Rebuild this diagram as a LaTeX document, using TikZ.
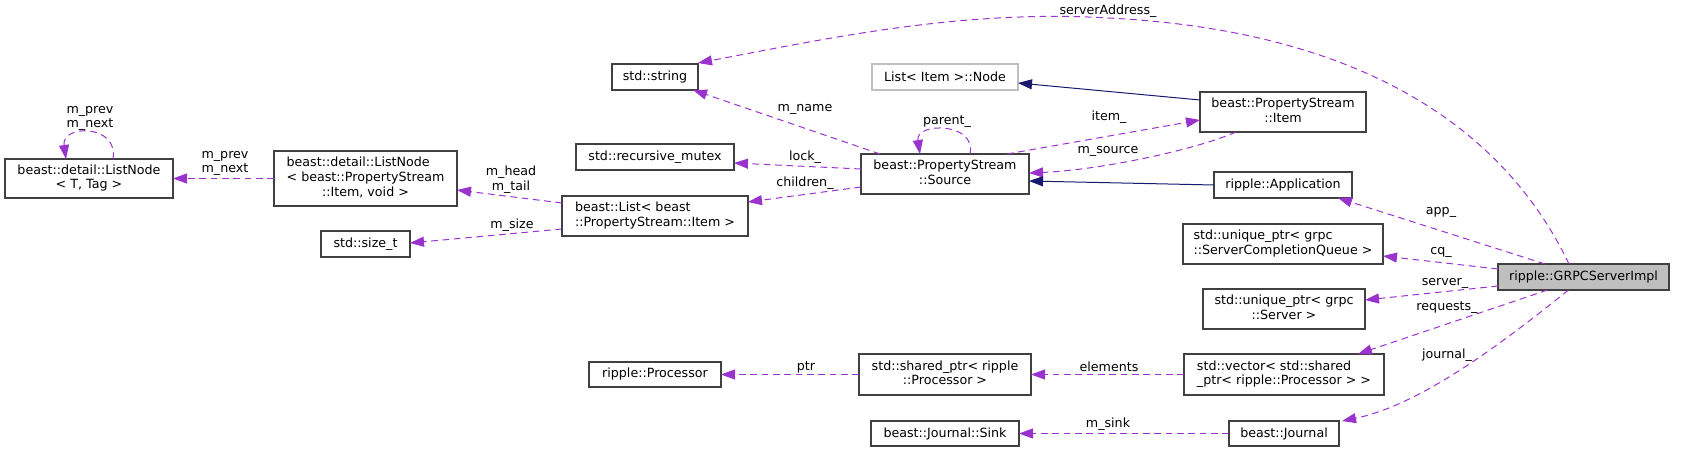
\documentclass[tikz,border=0pt]{standalone}
\usepackage{fontspec}
\setmainfont{DejaVu Sans}
\usetikzlibrary{arrows.meta}
\definecolor{purp}{HTML}{9A32CD}
\definecolor{navy}{HTML}{191970}
\definecolor{bord}{HTML}{404040}
\definecolor{lgray}{HTML}{BFBFBF}
\newcommand\dlines[2]{\begin{tabular}{@{}l@{}}#1\\\multicolumn{1}{@{}c@{}}{#2}\end{tabular}}
\begin{document}
\begin{tikzpicture}[x=0.75pt,y=-0.75pt,
  every node/.style={font=\fontsize{9.5}{11}\selectfont, inner sep=0pt, outer sep=0pt},
  cls/.style n args={2}{draw=bord, line width=0.9pt, fill=white, minimum width=#1*0.75pt, minimum height=#2*0.75pt},
  dep/.style={draw=purp, line width=0.75pt, dash pattern=on 5pt off 3.5pt, -{Triangle[length=10.5pt,width=7.5pt]}},
  inh/.style={draw=navy, line width=0.75pt, -{Triangle[length=10.5pt,width=7.5pt]}}]
\useasboundingbox (0,0) rectangle (1684,452);
% classes
\node[cls={168}{39}] (lnT) at (89,178.5) {\dlines{beast::detail::ListNode}{< T, Tag >}};
\node[cls={183}{55}] (lnItem) at (365.5,178.5) {\dlines{beast::detail::ListNode\\< beast::PropertyStream}{::Item, void >}};
\node[cls={89}{26}] (sizet) at (365.5,244) {std::size\_t};
\node[cls={86}{26}] (str) at (655,77) {std::string};
\node[cls={158}{26}] (mutex) at (655,157) {std::recursive\_mutex};
\node[cls={186}{40}] (blist) at (655,216) {\dlines{beast::List< beast}{::PropertyStream::Item >}};
\node[cls={132}{25}] (proc) at (655,374.5) {ripple::Processor};
\node[cls={168}{40}] (source) at (945,174) {\dlines{beast::PropertyStream}{::Source}};
\node[cls={146}{26}, draw=lgray] (lnode) at (945,77) {List< Item >::Node};
\node[cls={172}{41}] (sp) at (945,374.5) {\dlines{std::shared\_ptr< ripple}{::Processor >}};
\node[cls={148}{25}] (sink) at (945,433.5) {beast::Journal::Sink};
\node[cls={166}{40}] (item) at (1283,112) {\dlines{beast::PropertyStream}{::Item}};
\node[cls={138}{26}] (app) at (1283,185) {ripple::Application};
\node[cls={200}{40}] (cq) at (1283,244) {\dlines{std::unique\_ptr< grpc}{::ServerCompletionQueue >}};
\node[cls={162}{40}] (server) at (1284,309) {\dlines{std::unique\_ptr< grpc}{::Server >}};
\node[cls={200}{41}] (vector) at (1284,374.5) {\dlines{std::vector< std::shared}{\_ptr< ripple::Processor > >}};
\node[cls={110}{25}] (journal) at (1284,433.5) {beast::Journal};
\node[cls={171}{26}, fill=lgray] (grpc) at (1583.5,277) {ripple::GRPCServerImpl};
% edges
\draw[dep] ([shift={(24,0)}]lnT.north) .. controls ([shift={(30,-35)}]lnT.north) and ([shift={(-28,-35)}]lnT.north) .. ([shift={(-23,0)}]lnT.north);
\node[align=center] (Lprev1) at (90,118.5) {m\_prev\\m\_next};
\draw[dep] (lnItem.west) -- (lnT.east);
\node[align=center] (Lprev2) at (225,163.5) {m\_prev\\m\_next};
\draw[dep] ([shift={(0,-13)}]blist.west) -- ([shift={(0,11.5)}]lnItem.east);
\node[align=center] (Lhead) at (511,179.5) {m\_head\\m\_tail};
\draw[dep] ([shift={(0,13)}]blist.west) -- ([shift={(0,-1)}]sizet.east);
\node (Lsize) at (512,225) {m\_size};
\draw[dep] ([shift={(-65,0)}]source.north) -- ([shift={(-5,0)}]str.south east);
\node (Lname) at (805,109) {m\_name};
\draw[dep] ([shift={(0,-5)}]source.west) -- ([shift={(0,6)}]mutex.east);
\node (Llock) at (805,157) {lock\_};
\draw[dep] ([shift={(0,13)}]source.west) -- ([shift={(0,-14)}]blist.east);
\node (Lchild) at (805,183) {children\_};
\draw[dep] ([shift={(25,0)}]source.north) .. controls ([shift={(32,-32)}]source.north) and ([shift={(-30,-32)}]source.north) .. ([shift={(-25,0)}]source.north);
\node (Lparent) at (947,122) {parent\_};
\draw[dep] ([shift={(62,0)}]source.north) -- ([shift={(0,8)}]item.west);
\node (Litem) at (1109,117) {item\_};
\draw[dep] ([shift={(-47,0)}]item.south) .. controls (1195,150) and (1100,170) .. ([shift={(0,-1)}]source.east);
\node (Lsrc) at (1108,151) {m\_source};
\draw[inh] ([shift={(0,-12)}]item.west) -- ([shift={(0,6)}]lnode.east);
\draw[inh] (app.west) -- ([shift={(0,7)}]source.east);
\coordinate (sa) at (1108,18);
\draw[dep] ([shift={(-14.5,0)}]grpc.north) .. controls (1500,120) and (1350,30) .. (sa) .. controls (960,9) and (820,40) .. ([shift={(0,-1)}]str.north east);
\node (Lsa) at (1108,11) {serverAddress\_};
\draw[dep] ([shift={(-38.5,0)}]grpc.north) -- ([shift={(-14,0)}]app.south east);
\node (Lapp) at (1441,212) {app\_};
\draw[dep] ([shift={(0,-8)}]grpc.west) -- ([shift={(0,12)}]cq.east);
\node (Lcq) at (1441,252) {cq\_};
\draw[dep] ([shift={(0,9)}]grpc.west) -- ([shift={(0,-9)}]server.east);
\node (Lserver) at (1445,283) {server\_};
\draw[dep] ([shift={(-36,0)}]grpc.south) -- ([shift={(74,0)}]vector.north);
\node (Lreq) at (1447,308) {requests\_};
\draw[dep] ([shift={(-15,0)}]grpc.south) .. controls (1500,345) and (1420,405) .. ([shift={(3,0)}]journal.north east);
\node (Ljour) at (1447,355) {journal\_};
\draw[dep] (vector.west) -- (sp.east);
\node (Lelem) at (1109,367) {elements};
\draw[dep] (sp.west) -- (proc.east);
\node (Lptr) at (806,367) {ptr};
\draw[dep] (journal.west) -- (sink.east);
\node (Lsink) at (1108,424) {m\_sink};
\end{tikzpicture}
\end{document}
